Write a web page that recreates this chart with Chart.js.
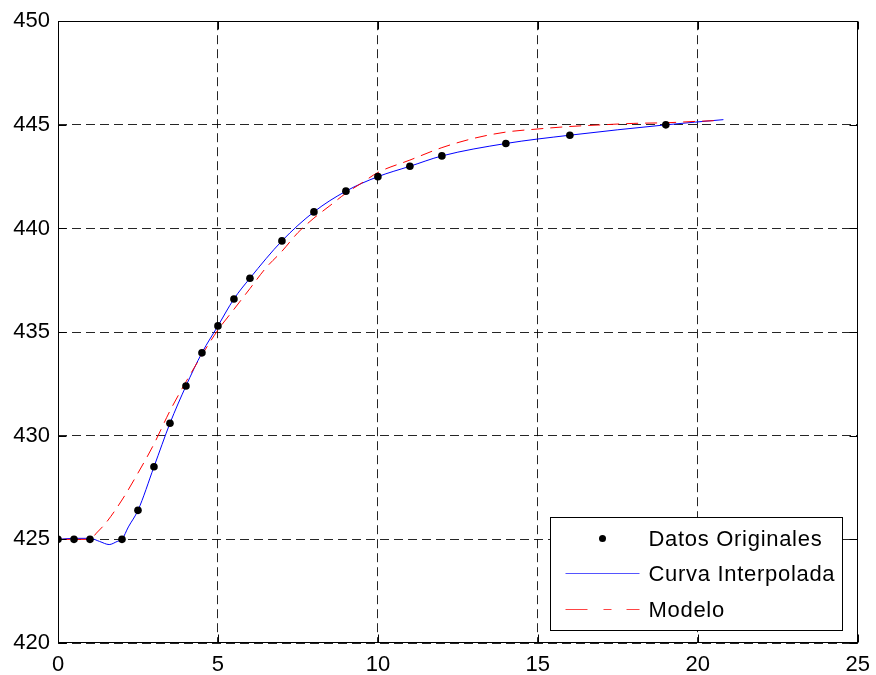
<!DOCTYPE html>
<html>
<head>
<meta charset="utf-8">
<script src="https://cdn.jsdelivr.net/npm/chart.js@4/dist/chart.umd.min.js"></script>
<style>
  html, body { margin: 0; padding: 0; background: #fff; }
  #wrap { width: 876px; height: 675px; position: relative; }
</style>
</head>
<body>
<div id="wrap"><canvas id="c" width="876" height="675"></canvas></div>
<script>
// ---- Data ----
const dataX = [0, 0.5, 1, 2, 2.5, 3, 3.5, 4, 4.5, 5, 5.5, 6, 7, 8, 9, 10, 11, 12, 14, 16, 19];
const dataY = [425, 425, 425, 425, 426.4, 428.5, 430.6, 432.4, 434.0, 435.3, 436.6, 437.6, 439.4, 440.8, 441.8, 442.5, 443.0, 443.5, 444.1, 444.5, 445.0];

const interpX = [0, 0.5, 1, 1.3, 1.6, 1.85, 2, 2.2, 2.5, 3, 3.5, 4, 4.5, 5, 5.5, 6, 7, 8, 9, 10, 11, 12, 14, 16, 19, 20.8];
const interpY = [425, 425.05, 425.05, 424.9, 424.75, 424.9, 425.0, 425.6, 426.4, 428.5, 430.6, 432.4, 434.0, 435.3, 436.6, 437.6, 439.4, 440.8, 441.8, 442.5, 443.0, 443.5, 444.1, 444.5, 445.0, 445.25];

const modelX = [0, 1, 1.2, 1.5, 2, 2.5, 3, 3.5, 4, 4.5, 5, 5.5, 6, 6.5, 7, 7.5, 8, 8.5, 9, 9.5, 10, 11, 12, 13, 14, 15, 16, 17, 18, 19, 20, 20.5];
const modelY = [425, 425, 425.3, 425.8, 426.9, 428.2, 429.6, 431.2, 432.6, 433.9, 435.1, 436.1, 437.1, 438.1, 438.9, 439.8, 440.5, 441.1, 441.7, 442.2, 442.7, 443.3, 443.9, 444.35, 444.65, 444.8, 444.92, 445.0, 445.07, 445.1, 445.17, 445.2];

const xTicks = [0, 5, 10, 15, 20, 25];
const yTicks = [420, 425, 430, 435, 440, 445, 450];

const seriesNames = ['Datos Originales', 'Curva Interpolada', 'Modelo'];

const toPts = (xs, ys) => xs.map((x, i) => ({ x: x, y: ys[i] }));

Chart.defaults.font.family = '"Liberation Sans", Arial, sans-serif';
Chart.defaults.font.size = 22;
Chart.defaults.color = '#000';

const FONT = '22px "Liberation Sans", Arial, sans-serif';

const matlabPlugin = {
  id: 'matlabBox',
  afterDraw(chart) {
    const { ctx, chartArea: a, scales } = chart;
    const xs = scales.x, ys = scales.y;
    ctx.save();
    ctx.strokeStyle = '#000';
    ctx.lineWidth = 1;
    ctx.setLineDash([]);
    const L = Math.round(a.left) + 0.5, R = Math.round(a.right) - 0.5;
    const T = Math.round(a.top) + 0.5, B = Math.round(a.bottom) - 0.5;
    ctx.beginPath();
    xs.ticks.forEach(t => {
      const px = Math.round(xs.getPixelForValue(t.value)) + 0.5;
      ctx.moveTo(px, B); ctx.lineTo(px, B - 8);
      ctx.moveTo(px, T); ctx.lineTo(px, T + 8);
    });
    ys.ticks.forEach(t => {
      const py = Math.round(ys.getPixelForValue(t.value)) + 0.5;
      ctx.moveTo(L, py); ctx.lineTo(L + 8, py);
      ctx.moveTo(R, py); ctx.lineTo(R - 8, py);
    });
    ctx.stroke();
    ctx.strokeRect(L, T, R - L, B - T);

    // legend box (inside, bottom-right)
    const bw = 292, bh = 113;
    const bx = Math.round(a.right - 16 - bw) + 0.5;
    const by = Math.round(a.bottom - 13 - bh) + 0.5;
    ctx.fillStyle = '#fff';
    ctx.fillRect(bx, by, bw, bh);
    ctx.strokeStyle = '#000';
    ctx.strokeRect(bx, by, bw, bh);
    const rows = [by + 21, by + 56, by + 92];
    const sx0 = bx + 15, sx1 = bx + 89, tx = bx + 98;
    // dot
    ctx.fillStyle = '#000';
    ctx.beginPath();
    ctx.arc((sx0 + sx1) / 2, rows[0], 3.5, 0, Math.PI * 2);
    ctx.fill();
    // blue line
    ctx.strokeStyle = '#5555ff';
    ctx.beginPath(); ctx.moveTo(sx0, rows[1]); ctx.lineTo(sx1, rows[1]); ctx.stroke();
    // red dashed
    ctx.strokeStyle = '#ff4444';
    ctx.setLineDash([22, 16, 8, 15, 13, 0]);
    ctx.beginPath(); ctx.moveTo(sx0, rows[2]); ctx.lineTo(sx1, rows[2]); ctx.stroke();
    ctx.setLineDash([]);
    ctx.fillStyle = '#000';
    ctx.font = FONT;
    if ('letterSpacing' in ctx) ctx.letterSpacing = '0.7px';
    ctx.textBaseline = 'middle';
    ctx.textAlign = 'left';
    seriesNames.forEach((n, i) => ctx.fillText(n, tx, rows[i] + 1));
    ctx.restore();
  }
};

new Chart(document.getElementById('c'), {
  type: 'scatter',
  data: {
    datasets: [
      {
        label: seriesNames[0],
        data: toPts(dataX, dataY),
        showLine: false,
        pointRadius: 3.8,
        pointBackgroundColor: '#000',
        pointBorderColor: '#000',
        pointBorderWidth: 0,
        order: 0
      },
      {
        label: seriesNames[1],
        type: 'line',
        data: toPts(interpX, interpY),
        borderColor: '#0000ff',
        borderWidth: 1,
        pointRadius: 0,
        fill: false,
        cubicInterpolationMode: 'monotone',
        order: 2
      },
      {
        label: seriesNames[2],
        type: 'line',
        data: toPts(modelX, modelY),
        borderColor: '#ff0000',
        borderWidth: 1,
        borderDash: [12, 7],
        pointRadius: 0,
        fill: false,
        cubicInterpolationMode: 'monotone',
        order: 1
      }
    ]
  },
  options: {
    responsive: false,
    animation: false,
    devicePixelRatio: 1,
    layout: { padding: { top: 21, right: 18, left: 0, bottom: 0 } },
    plugins: {
      legend: { display: false },
      tooltip: { enabled: false }
    },
    scales: {
      x: {
        type: 'linear',
        min: 0, max: 25,
        afterFit(s) { s.height = 32; },
        afterBuildTicks(s) { s.ticks = xTicks.map(v => ({ value: v })); },
        ticks: { padding: 6, maxRotation: 0, minRotation: 0, color: '#000', font: { size: 22 } },
        grid: { color: 'rgba(0,0,0,0.85)', lineWidth: 1, drawTicks: true, tickLength: 3, tickColor: 'rgba(0,0,0,0)' },
        border: { display: false, dash: [9, 5] }
      },
      y: {
        type: 'linear',
        min: 420, max: 450,
        afterFit(s) { s.width = 58; },
        afterBuildTicks(s) { s.ticks = yTicks.map(v => ({ value: v })); },
        ticks: { padding: 8, color: '#000', font: { size: 22 } },
        grid: { color: 'rgba(0,0,0,0.85)', lineWidth: 1, drawTicks: false },
        border: { display: false, dash: [9, 5] }
      }
    }
  },
  plugins: [matlabPlugin]
});
</script>
</body>
</html>
